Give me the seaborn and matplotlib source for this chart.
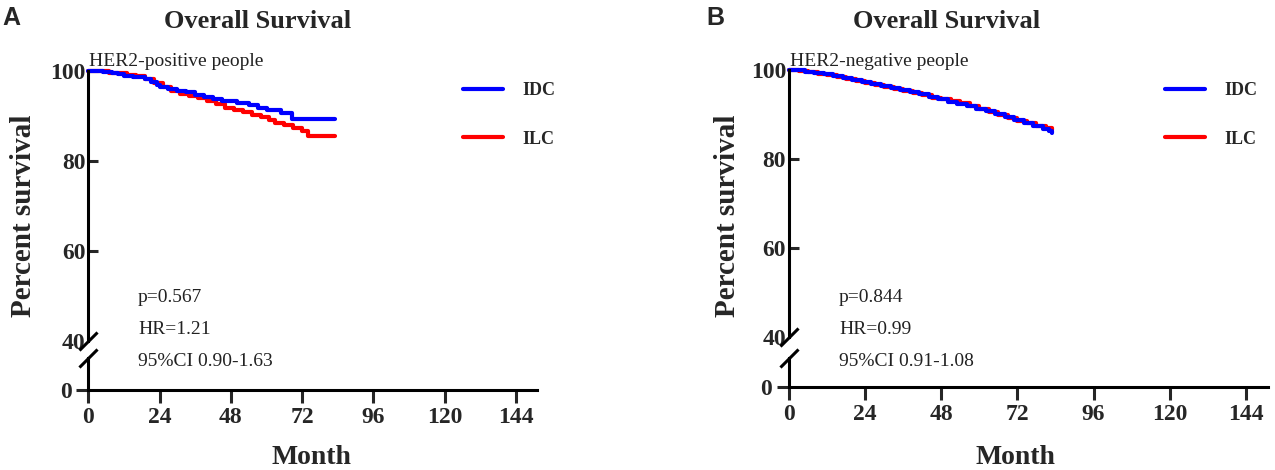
import matplotlib
matplotlib.use("Agg")
import matplotlib.pyplot as plt
import seaborn as sns

# Kaplan-Meier step points (month, percent survival)
a_idc_month = [0, 3, 5, 8, 10, 12, 15, 18, 19, 21, 23, 24, 27, 30, 33, 36, 39, 42, 45, 50, 54, 57, 60, 65, 68.5, 83]
a_idc_surv = [100, 100, 99.7, 99.4, 99.2, 98.9, 98.7, 98.6, 98.2, 97.5, 96.8, 96.3, 95.9, 95.6, 95.2, 94.7, 94.2,
              93.8, 93.3, 92.9, 92.3, 91.8, 91.3, 90.6, 89.2, 89.2]
a_ilc_month = [0, 4, 7, 10, 13, 16, 19, 22, 25, 28, 31, 34, 37, 40, 43, 46, 49, 52, 55, 58, 61, 63, 66, 69, 72, 74, 83]
a_ilc_surv = [100, 100, 99.6, 99.4, 99.1, 98.8, 98.2, 97.3, 96.4, 95.6, 94.8, 94.3, 93.9, 93.2, 92.5, 91.8, 91.3,
              90.8, 90.2, 89.7, 89.1, 88.4, 88.0, 87.3, 86.6, 85.6, 85.6]

b_idc_month = [0, 2, 5, 8, 11, 14, 17, 20, 23, 26, 29, 32, 35, 38, 41, 44, 47, 50, 53, 56, 59, 62, 65, 68, 71, 74,
               77, 80, 82, 83]
b_idc_surv = [100, 99.9, 99.6, 99.3, 99.0, 98.6, 98.2, 97.8, 97.4, 96.9, 96.5, 96.0, 95.5, 95.0, 94.5, 94.0, 93.4,
              92.9, 92.4, 91.9, 91.3, 90.7, 90.1, 89.4, 88.7, 88.0, 87.4, 86.8, 86.2, 85.9]
b_ilc_month = [0, 3, 6, 9, 12, 15, 18, 21, 24, 27, 30, 33, 36, 39, 42, 45, 48, 51, 54, 57, 60, 63, 66, 69, 72, 75,
               78, 81, 83]
b_ilc_surv = [100, 99.8, 99.5, 99.2, 98.8, 98.4, 98.0, 97.6, 97.1, 96.7, 96.2, 95.8, 95.3, 94.8, 94.3, 93.8, 93.4,
              93.0, 92.5, 91.9, 91.3, 90.6, 89.9, 89.2, 88.6, 88.0, 87.4, 86.9, 86.5]

month_ticks = [0, 24, 48, 72, 96, 120, 144]
surv_ticks = [40, 60, 80, 100]
groups = ["IDC", "ILC"]
colors = {"IDC": "#0000ff", "ILC": "#ff0000"}

panel_letters = ["A", "B"]
subgroup_labels = ["HER2-positive people", "HER2-negative people"]
stats_text = [["p=0.567", "HR=1.21", "95%CI 0.90-1.63"],
              ["p=0.844", "HR=0.99", "95%CI 0.91-1.08"]]

sns.set_style("white")
plt.rcParams["font.family"] = ["Liberation Serif", "DejaVu Serif"]

W, H = 1275, 470
fig = plt.figure(figsize=(W / 100, H / 100), dpi=100)


def fx(px):
    return px / W


def fy(py):
    return 1 - py / H


# pixel geometry of each panel: x of month 0, x of month 151, y of 100, y of 40, y of 0, top of lower segment
geom = [dict(x0=88.3, x1=536.8, y100=70.7, y40=341, y0=390, ylow=358),
        dict(x0=789, x1=1268, y100=70, y40=337, y0=387, ylow=358)]

curves = [((a_idc_month, a_idc_surv), (a_ilc_month, a_ilc_surv)),
          ((b_idc_month, b_idc_surv), (b_ilc_month, b_ilc_surv))]

spine_w = 2.2
tick_fs = 17
break_marker = [(-1, -1), (1, 1)]

for i, g in enumerate(geom):
    ax = fig.add_axes([fx(g["x0"]), fy(g["y40"]), fx(g["x1"] - g["x0"]), (g["y40"] - g["y100"]) / H])
    axl = fig.add_axes([fx(g["x0"]), fy(g["y0"]), fx(g["x1"] - g["x0"]), (g["y0"] - g["ylow"]) / H])

    (idc, ilc) = curves[i]
    sns.lineplot(x=ilc[0], y=ilc[1], ax=ax, color=colors["ILC"], lw=3, drawstyle="steps-post",
                 estimator=None, sort=False, label="ILC", clip_on=False, legend=False)
    sns.lineplot(x=idc[0], y=idc[1], ax=ax, color=colors["IDC"], lw=3, drawstyle="steps-post",
                 estimator=None, sort=False, label="IDC", clip_on=False, legend=False)

    for a in (ax, axl):
        a.set_xlim(0, 151)
        a.set_facecolor("none")
        for s in ("top", "right"):
            a.spines[s].set_visible(False)
        a.spines["left"].set_linewidth(spine_w)
        a.spines["bottom"].set_linewidth(spine_w)
        a.spines["left"].set_color("black")
        a.spines["bottom"].set_color("black")
        a.set_xlabel("")
        a.set_ylabel("")

    ax.set_ylim(40, 100)
    ax.spines["bottom"].set_visible(False)
    ax.set_xticks([])
    ax.set_yticks(surv_ticks)
    ax.set_yticklabels([str(t) for t in surv_ticks], fontsize=tick_fs, fontweight="bold")
    ax.tick_params(axis="y", direction="in", length=7, width=spine_w, pad=2, left=True)
    ax.yaxis.get_major_ticks()[0].tick1line.set_visible(False)

    axl.set_ylim(0, 1)
    axl.set_yticks([0])
    axl.set_yticklabels(["0"], fontsize=tick_fs, fontweight="bold")
    axl.set_xticks(month_ticks)
    axl.set_xticklabels([str(t) for t in month_ticks], fontsize=tick_fs, fontweight="bold")
    axl.tick_params(axis="both", direction="out", length=9, width=spine_w, pad=3, left=True, bottom=True)

    # axis break marks
    ax.plot([0], [40], marker=break_marker, ms=13, mew=spine_w, mec="black", mfc="none",
            ls="none", clip_on=False)
    axl.plot([0], [1], marker=break_marker, ms=13, mew=spine_w, mec="black", mfc="none",
             ls="none", clip_on=False)

    # legend
    handles, labels = ax.get_legend_handles_labels()
    order = [labels.index(gname) for gname in groups]
    lx = 463 if i == 0 else 1165
    ax.legend([handles[k] for k in order], groups, loc="upper left",
              bbox_to_anchor=(fx(lx), fy(82)), bbox_transform=fig.transFigure,
              frameon=False, handlelength=2.2, handletextpad=1.1, labelspacing=1.75,
              borderpad=0, borderaxespad=0, prop={"size": 13, "weight": "bold"})

    # texts
    fig.text(fx(g["x0"] + 1), fy(61), subgroup_labels[i], fontsize=14, ha="left", va="center", color="#222222")
    sx = 138 if i == 0 else 839
    for k, (t, yy) in enumerate(zip(stats_text[i], [298, 330, 362])):
        fig.text(fx(sx), fy(yy), t, fontsize=14, ha="left", va="center", color="#222222")

fig.text(fx(258), fy(21), "Overall Survival", fontsize=19, fontweight="bold", ha="center", va="center")
fig.text(fx(947), fy(21), "Overall Survival", fontsize=19, fontweight="bold", ha="center", va="center")
fig.text(fx(311), fy(458), "Month", fontsize=20, fontweight="bold", ha="center", va="center")
fig.text(fx(1015), fy(458), "Month", fontsize=20, fontweight="bold", ha="center", va="center")
fig.text(fx(24), fy(216), "Percent survival", fontsize=21, fontweight="bold", rotation=90,
         ha="center", va="center")
fig.text(fx(728), fy(216), "Percent survival", fontsize=21, fontweight="bold", rotation=90,
         ha="center", va="center")
fig.text(fx(2), fy(18), "A", fontsize=18, fontweight="bold", family="Liberation Sans", ha="left", va="center")
fig.text(fx(706), fy(18), "B", fontsize=18, fontweight="bold", family="Liberation Sans", ha="left", va="center")

fig.savefig("out.png", dpi=100)
